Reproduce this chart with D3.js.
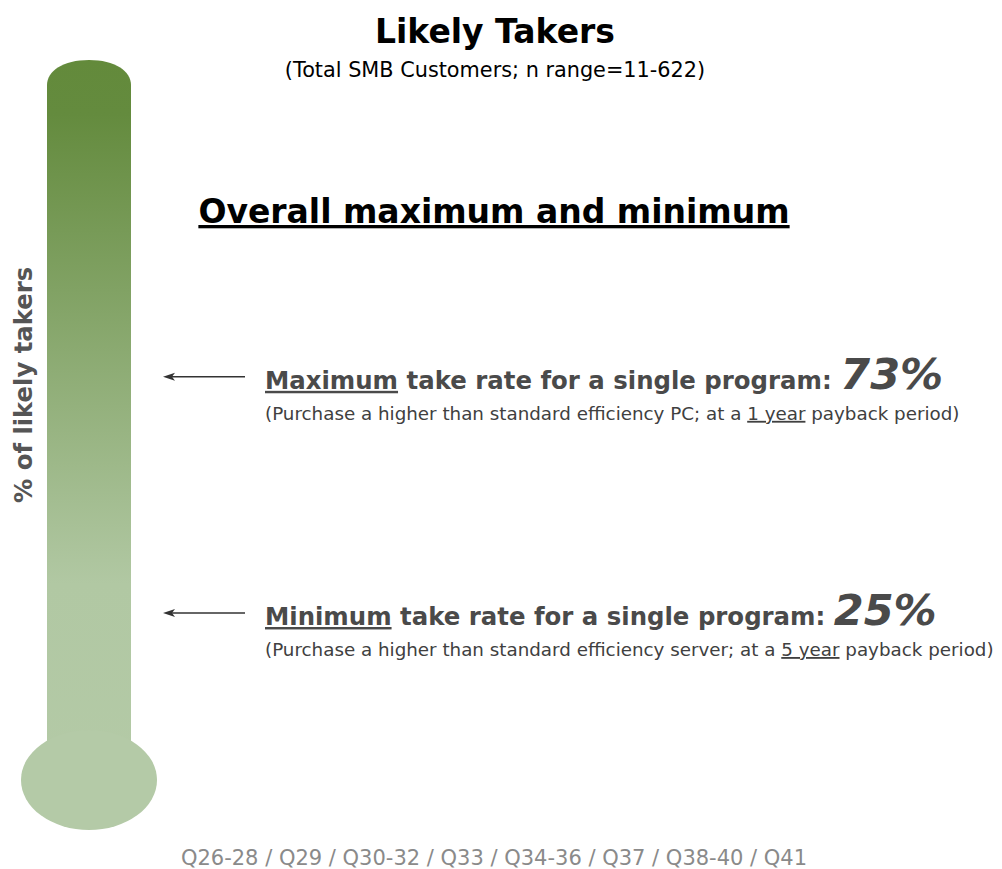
<!DOCTYPE html>
<head>
  <meta charset="utf-8">
  <style>
    body { margin: 0; background: #fff; }
    text { font-family: "DejaVu Sans", Verdana, sans-serif; }
    .u { text-decoration: underline; }
  </style>
  <script src="https://d3js.org/d3.v7.min.js"></script>
</head>
<body>
<script>
  var kinds = ["Maximum", "Minimum"];
  var rates = [73, 25];
  var items = ["PC", "server"];
  var paybacks = ["1 year", "5 year"];
  var questions = ["Q26-28", "Q29", "Q30-32", "Q33", "Q34-36", "Q37", "Q38-40", "Q41"];

  var width = 1002, height = 869;

  var svg = d3.select("body").append("svg")
      .attr("width", width)
      .attr("height", height);

  // % scale along the thermometer
  var yScale = d3.scaleLinear().domain([0, 100]).range([736, 244]);

  // gradient for the tube
  var grad = svg.append("defs").append("linearGradient")
      .attr("id", "tube")
      .attr("gradientUnits", "userSpaceOnUse")
      .attr("x1", 0).attr("y1", 60).attr("x2", 0).attr("y2", 830);
  grad.append("stop").attr("offset", "0").attr("stop-color", "#638a3b");
  grad.append("stop").attr("offset", "0.07").attr("stop-color", "#648b3e");
  grad.append("stop").attr("offset", "0.68").attr("stop-color", "#b1c8a3");
  grad.append("stop").attr("offset", "1").attr("stop-color", "#b4caa7");

  var tx0 = 47, tx1 = 131, tubeTop = 60, capH = 25;
  var mid = (tx0 + tx1) / 2;
  // tube runs a little below 0% so the bulb covers the joint
  var tubePath = d3.path();
  tubePath.moveTo(tx0, yScale(0) + 25);
  tubePath.lineTo(tx0, tubeTop + capH);
  tubePath.bezierCurveTo(tx0, tubeTop + capH - 14, mid - 26, tubeTop, mid, tubeTop);
  tubePath.bezierCurveTo(mid + 26, tubeTop, tx1, tubeTop + capH - 14, tx1, tubeTop + capH);
  tubePath.lineTo(tx1, yScale(0) + 25);
  tubePath.closePath();

  svg.append("path")
      .attr("d", tubePath.toString())
      .attr("fill", "url(#tube)");

  svg.append("ellipse")
      .attr("cx", 89).attr("cy", 780)
      .attr("rx", 68).attr("ry", 50)
      .attr("fill", "#b4caa7");

  // titles
  svg.append("text")
      .attr("x", 495).attr("y", 43)
      .attr("text-anchor", "middle")
      .attr("font-size", "33px").attr("font-weight", "bold")
      .attr("fill", "#000")
      .text("Likely Takers");

  svg.append("text")
      .attr("x", 495).attr("y", 77)
      .attr("text-anchor", "middle")
      .attr("font-size", "20.8px")
      .attr("fill", "#000")
      .text("(Total SMB Customers; n range=11-622)");

  svg.append("text")
      .attr("x", 494).attr("y", 223)
      .attr("text-anchor", "middle")
      .attr("font-size", "33px").attr("font-weight", "bold")
      .attr("fill", "#000")
      .attr("class", "u")
      .text("Overall maximum and minimum");

  // axis label
  svg.append("text")
      .attr("transform", "translate(32,385) rotate(-90)")
      .attr("text-anchor", "middle")
      .attr("font-size", "24.3px").attr("font-weight", "bold")
      .attr("fill", "#555")
      .text("% of likely takers");

  // arrows and annotations
  var ann = svg.selectAll("g.ann")
      .data(rates)
      .enter().append("g")
      .attr("class", "ann");

  ann.append("line")
      .attr("x1", 245).attr("x2", 172)
      .attr("y1", function(d) { return yScale(d); })
      .attr("y2", function(d) { return yScale(d); })
      .attr("stroke", "#333").attr("stroke-width", 1.5);

  ann.append("path")
      .attr("d", function(d) {
        var y = yScale(d);
        return "M163," + y + "L175," + (y - 4) + "L172," + y + "L175," + (y + 4) + "Z";
      })
      .attr("fill", "#333");

  var head = ann.append("text")
      .attr("x", 265)
      .attr("y", function(d) { return yScale(d) + 12; })
      .attr("font-weight", "bold")
      .attr("fill", "#4a4a4a");
  head.append("tspan")
      .attr("class", "u")
      .attr("font-size", "24.4px")
      .text(function(d, i) { return kinds[i]; });
  head.append("tspan")
      .attr("font-size", "24.4px")
      .text(" take rate for a single program:  ");
  head.append("tspan")
      .attr("font-size", "43px")
      .attr("font-style", "italic")
      .text(function(d) { return d + "%"; });

  var sub = ann.append("text")
      .attr("x", 265)
      .attr("y", function(d) { return yScale(d) + 43; })
      .attr("font-size", "18.3px")
      .attr("fill", "#404040");
  sub.append("tspan")
      .text(function(d, i) { return "(Purchase a higher than standard efficiency " + items[i] + "; at a "; });
  sub.append("tspan")
      .attr("class", "u")
      .text(function(d, i) { return paybacks[i]; });
  sub.append("tspan")
      .text(" payback period)");

  // footer
  svg.append("text")
      .attr("x", 494).attr("y", 865)
      .attr("text-anchor", "middle")
      .attr("font-size", "21px")
      .attr("fill", "#8a8a8a")
      .text(questions.join(" / "));
</script>
</body>
</html>
